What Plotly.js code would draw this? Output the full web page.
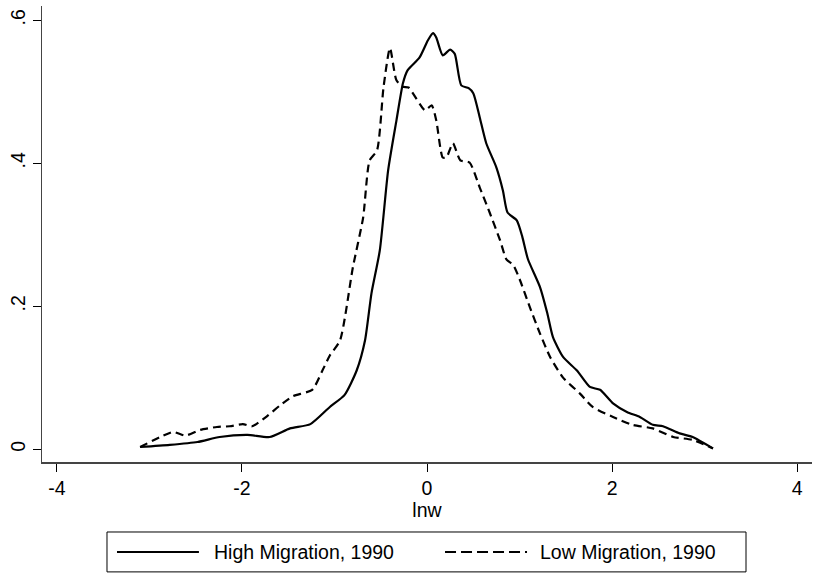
<!DOCTYPE html>
<html>
<head>
<meta charset="utf-8">
<script src="https://cdn.plot.ly/plotly-3.0.1.min.js"></script>
<style>html,body{margin:0;padding:0;background:#fff;}#chart{width:813px;height:575px;}</style>
</head>
<body>
<div id="chart"></div>
<script>
// High Migration, 1990 (solid)
const highX = [-3.10,-2.78,-2.48,-2.24,-1.94,-1.70,-1.48,-1.26,-1.05,-0.89,-0.76,-0.67,-0.60,-0.51,-0.42,-0.33,-0.26,-0.21,-0.08,0.01,0.065,0.10,0.17,0.25,0.30,0.37,0.45,0.50,0.57,0.64,0.75,0.82,0.87,0.97,1.03,1.09,1.22,1.30,1.36,1.47,1.62,1.76,1.87,2.01,2.16,2.30,2.44,2.55,2.73,2.87,3.09];
const highY = [0.003,0.006,0.010,0.017,0.020,0.017,0.029,0.035,0.059,0.076,0.110,0.152,0.218,0.278,0.390,0.460,0.512,0.530,0.548,0.572,0.582,0.576,0.551,0.559,0.553,0.509,0.505,0.498,0.464,0.428,0.394,0.362,0.331,0.320,0.297,0.266,0.227,0.190,0.157,0.129,0.110,0.087,0.083,0.064,0.052,0.045,0.034,0.032,0.022,0.017,0.001];
// Low Migration, 1990 (dashed)
const lowX = [-3.10,-2.88,-2.74,-2.61,-2.45,-2.27,-2.13,-1.99,-1.89,-1.73,-1.59,-1.45,-1.24,-1.13,-1.05,-0.94,-0.80,-0.69,-0.62,-0.54,-0.47,-0.40,-0.33,-0.26,-0.20,-0.02,0.05,0.10,0.17,0.21,0.28,0.36,0.46,0.57,0.68,0.79,0.86,0.93,1.00,1.11,1.22,1.33,1.47,1.65,1.79,2.01,2.22,2.44,2.66,2.87,3.09];
const lowY = [0.003,0.017,0.024,0.019,0.027,0.031,0.032,0.035,0.032,0.046,0.061,0.074,0.083,0.110,0.131,0.152,0.255,0.324,0.404,0.418,0.506,0.561,0.516,0.507,0.506,0.474,0.481,0.460,0.408,0.408,0.428,0.404,0.401,0.366,0.330,0.292,0.265,0.258,0.238,0.199,0.162,0.129,0.100,0.078,0.059,0.045,0.034,0.029,0.017,0.013,0.001];
const xTicks = [-4,-2,0,2,4];
const xTickText = ['-4','-2','0','2','4'];
const yTicks = [0,0.2,0.4,0.6];
const yTickText = ['0','.2','.4','.6'];
const seriesNames = ['High Migration, 1990','Low Migration, 1990'];

const font = {family:'"Liberation Sans", Arial, sans-serif', size:19.5, color:'#000'};
const dashStyle = '8px,5px';
const traces = [
  {x:highX, y:highY, type:'scatter', mode:'lines', name:seriesNames[0],
   line:{color:'#000', width:2.2, shape:'spline', smoothing:0.6}},
  {x:lowX, y:lowY, type:'scatter', mode:'lines', name:seriesNames[1],
   line:{color:'#000', width:2.2, dash:dashStyle, shape:'spline', smoothing:0.6}}
];

// legend drawn in paper coordinates
const legY = -0.1974;
const shapes = [
  {type:'rect', xref:'paper', yref:'paper', x0:0.0844, x1:0.9143, y0:-0.241, y1:-0.1535,
   line:{color:'#000', width:1}, fillcolor:'rgba(0,0,0,0)'},
  {type:'line', xref:'paper', yref:'paper', x0:0.0974, x1:0.2038, y0:legY, y1:legY,
   line:{color:'#000', width:2.2}},
  {type:'line', xref:'paper', yref:'paper', x0:0.5234, x1:0.6299, y0:legY, y1:legY,
   line:{color:'#000', width:2.2, dash:'11px,5px'}}
];
const annotations = [
  {xref:'paper', yref:'paper', x:0.2208, y:legY, xanchor:'left', yanchor:'middle',
   text:seriesNames[0], showarrow:false, font:font},
  {xref:'paper', yref:'paper', x:0.6442, y:legY, xanchor:'left', yanchor:'middle',
   text:seriesNames[1], showarrow:false, font:font}
];

const layout = {
  width:813, height:575,
  margin:{l:42, r:1, t:6, b:113},
  paper_bgcolor:'#fff', plot_bgcolor:'#fff',
  font:font,
  showlegend:false,
  shapes:shapes,
  annotations:annotations,
  xaxis:{range:[-4.16,4.16], tickvals:xTicks, ticktext:xTickText,
    showgrid:false, zeroline:false, showline:true, linecolor:'#444', linewidth:1.5,
    ticks:'outside', ticklen:8, tickcolor:'#000', tickfont:font,
    title:{text:'lnw', font:font, standoff:0}},
  yaxis:{range:[-0.018,0.62], tickvals:yTicks, ticktext:yTickText,
    showgrid:false, zeroline:false, showline:true, linecolor:'#444', linewidth:1.5,
    ticks:'outside', ticklen:8, tickcolor:'#000', tickfont:font, tickangle:-90}
};
Plotly.newPlot('chart', traces, layout, {displayModeBar:false, staticPlot:true});
</script>
</body>
</html>
